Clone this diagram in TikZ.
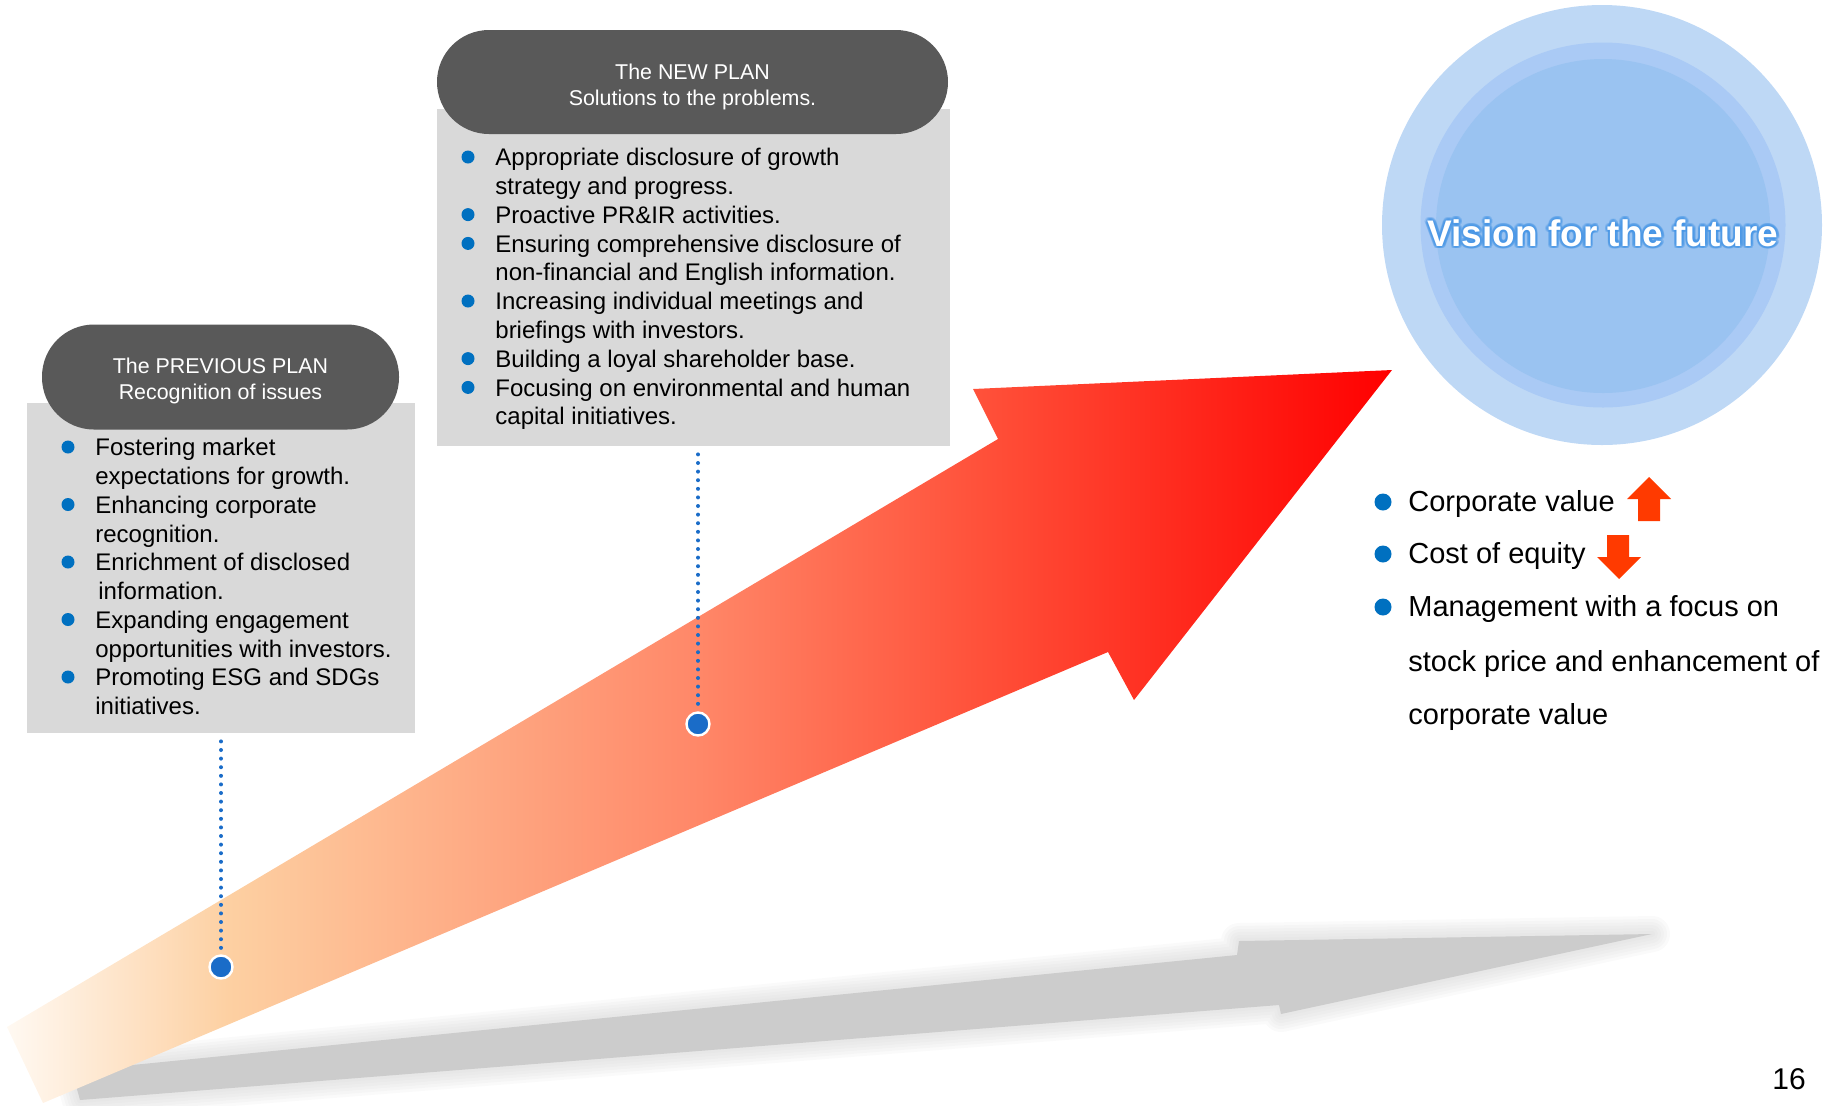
\documentclass[tikz,border=0pt]{standalone}
\usepackage{fontspec}
\setmainfont{Liberation Sans}
\usetikzlibrary{positioning,calc}

\definecolor{pillgray}{RGB}{89,89,89}
\definecolor{boxgray}{RGB}{217,217,217}
\definecolor{bulletblue}{RGB}{0,112,192}
\definecolor{dotblue}{RGB}{26,108,200}
\definecolor{ringout}{RGB}{190,216,245}
\definecolor{ringmid}{RGB}{170,202,245}
\definecolor{ringin}{RGB}{154,195,241}
\definecolor{glowblue}{RGB}{70,150,230}
\definecolor{hotred}{RGB}{255,58,0}
\definecolor{shadowgray}{RGB}{204,204,204}
\definecolor{rise0}{RGB}{255,249,242}
\definecolor{rise1}{RGB}{253,208,162}
\definecolor{rise2}{RGB}{255,135,104}
\definecolor{rise3}{RGB}{255,76,54}
\definecolor{rise4}{RGB}{255,0,0}
\pgfdeclarehorizontalshading{riseshade}{100bp}{color(0bp)=(rise0); color(25bp)=(rise0); color(33bp)=(rise1); color(50bp)=(rise2); color(61bp)=(rise3); color(75bp)=(rise4); color(100bp)=(rise4)}

\begin{document}
\begin{tikzpicture}[x=0.5pt, y=-0.5pt,
    pill/.style={fill=pillgray, rounded corners=26pt, inner sep=0pt},
    pilltxt/.style={text=white, align=center, inner sep=0pt, font=\fontsize{10.7}{13}\selectfont},
    listbox/.style={fill=boxgray, inner sep=0pt},
    item/.style={anchor=mid west, inner sep=0pt, font=\fontsize{12}{14}\selectfont},
    bigitem/.style={anchor=mid west, inner sep=0pt, font=\fontsize{14.5}{17}\selectfont},
    ring/.style={circle, inner sep=0pt},
    dot/.style={circle, fill=dotblue, draw=white, line width=1.2pt, minimum size=11.5pt, inner sep=0pt},
    dotline/.style={dotblue, line width=2pt, line cap=round, dash pattern=on 0pt off 4.3pt},
    glowtxt/.style={text=glowblue, opacity=0.3, font=\bfseries\fontsize{18.5}{22}\selectfont},
    visiontxt/.style={text=white, font=\bfseries\fontsize{18.5}{22}\selectfont}
]
\useasboundingbox (0,0) rectangle (1837,1105);

\foreach \w in {3,6,9,12,15,18}
  \draw[shadowgray, line width=\w pt, opacity=0.1, line join=round] (72,1071) -- (1237,955) -- (1239,941) -- (1652,934) -- (1281,1014) -- (1279,1005) -- (80,1100) -- cycle;
\fill[shadowgray] (72,1071) -- (1237,955) -- (1239,941) -- (1652,934) -- (1281,1014) -- (1279,1005) -- (80,1100) -- cycle;

\shade[shading=riseshade] (7,1027) -- (998,439) -- (973,389) -- (1392,370) -- (1134,700) -- (1108,652) -- (43,1103) -- cycle;

\node[listbox, minimum width=194pt, minimum height=165pt] (box1) at (221,568) {};
\node[pill, minimum width=178.5pt, minimum height=52.5pt] (pill1) at (220.5,377) {};
\node[pilltxt] (head1) at (220.5,381) {The PREVIOUS PLAN\\Recognition of issues};
\node[listbox, minimum width=256.5pt, minimum height=168.5pt] (box2) at (693.5,277.5) {};
\node[pill, minimum width=255.5pt, minimum height=52pt] (pill2) at (692.5,82) {};
\node[pilltxt] (head2) at (692.5,86.5) {The NEW PLAN\\Solutions to the problems.};

\foreach \n/\t in {0/Fostering market, 1/expectations for growth., 2/Enhancing corporate, 3/recognition., 4/Enrichment of disclosed, 5/\hspace{1.5pt}information., 6/Expanding engagement, 7/opportunities with investors., 8/Promoting ESG and SDGs, 9/initiatives.}
  \node[item] (old\n) at (95,450.5+28.75*\n) {\t};
\foreach \n in {0,2,4,6,8}
  \fill[bulletblue] (68,447+28.75*\n) circle (6.5);

\foreach \n/\t in {0/Appropriate disclosure of growth, 1/strategy and progress., 2/Proactive PR\&IR activities., 3/Ensuring comprehensive disclosure of, 4/non-financial and English information., 5/Increasing individual meetings and, 6/briefings with investors., 7/Building a loyal shareholder base., 8/Focusing on environmental and human, 9/capital initiatives.}
  \node[item] (new\n) at (495,160.5+28.8*\n) {\t};
\foreach \n in {0,2,3,5,7,8}
  \fill[bulletblue] (468,157+28.8*\n) circle (6.5);

\node[dot] (dot1) at (221,967) {};
\node[dot] (dot2) at (698,724) {};
\draw[dotline, shorten <=4pt] (box1.south) -- (dot1.north);
\draw[dotline, shorten <=4pt] (box2.south -| dot2) -- (dot2.north);

\node[ring, fill=ringout, minimum size=220pt] (outer) at (1602,225) {};
\node[ring, fill=ringmid, minimum size=182.5pt] (middle) at (1603,225) {};
\node[ring, fill=ringin, minimum size=167pt] (inner) at (1603,226) {};
\foreach \a in {0,22.5,...,337.5}
  \node[glowtxt] at ([shift={(\a:1.3pt)}]1603,233) {Vision for the future};
\node[visiontxt] (vis) at (1603,233) {Vision for the future};

\foreach \n/\y/\t in {1/506.5/Corporate value, 2/558.5/Cost of equity, 3/611.5/Management with a focus on, 4/666.5/stock price and enhancement of, 5/719.5/corporate value}
  \node[bigitem] (goal\n) at (1408,\y) {\t};
\foreach \y in {502,554,607}
  \fill[bulletblue] (1383,\y) circle (8.5);

\fill[hotred] (1638,521) -- (1638,499) -- (1627,499) -- (1649,477) -- (1671,499) -- (1660,499) -- (1660,521) -- cycle;
\fill[hotred] (1607,535) -- (1629,535) -- (1629,557) -- (1641,557) -- (1619,579) -- (1597,557) -- (1607,557) -- cycle;

\node[font=\fontsize{15}{18}\selectfont, inner sep=0pt] (page) at (1789,1079) {16};
\end{tikzpicture}
\end{document}
